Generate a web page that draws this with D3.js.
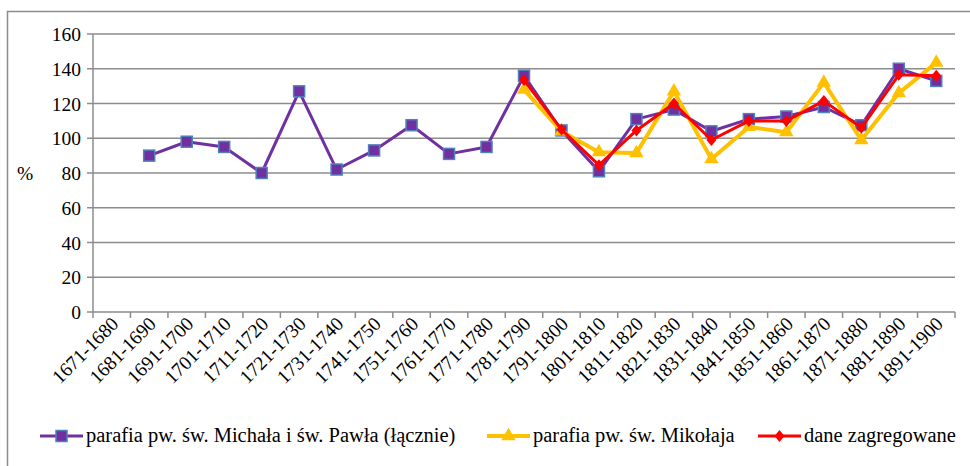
<!DOCTYPE html>
<html>
<head>
<meta charset="utf-8">
<script src="https://cdn.jsdelivr.net/npm/d3@7"></script>
</head>
<body style="margin:0">
<script>
// categories (decades) and series
var decades = ["1671-1680", "1681-1690", "1691-1700", "1701-1710", "1711-1720", "1721-1730",
  "1731-1740", "1741-1750", "1751-1760", "1761-1770", "1771-1780", "1781-1790", "1791-1800",
  "1801-1810", "1811-1820", "1821-1830", "1831-1840", "1841-1850", "1851-1860", "1861-1870",
  "1871-1880", "1881-1890", "1891-1900"];

var michalPawel = [null, 90, 98, 95, 80, 127, 82, 93, 107.5, 91, 95, 136, 104.5,
  81, 111, 116.5, 104, 111, 112.5, 118, 107.5, 140, 133];
var mikolaj = [null, null, null, null, null, null, null, null, null, null, null, 128, 104,
  92, 91.5, 127, 88, 106.5, 103.5, 132, 99, 126, 143.5];
var zagregowane = [null, null, null, null, null, null, null, null, null, null, null, 133.5, 105,
  84.5, 104.5, 120, 99, 110, 110, 121.5, 106, 136.5, 136];

var yTicks = [0, 20, 40, 60, 80, 100, 120, 140, 160];
var seriesNames = ["parafia pw. św. Michała i św. Pawła (łącznie)", "parafia pw. św. Mikołaja", "dane zagregowane"];

var FONT = "Liberation Serif";
var width = 970, height = 466;
var margin = { top: 34, left: 93 };
var w = 955 - margin.left;
var h = 312 - margin.top;

var svg = d3.select("body").append("svg")
  .attr("width", width)
  .attr("height", height);

// outer chart frame (runs past the right and bottom edges)
svg.append("rect")
  .attr("x", 7.5).attr("y", 11.5)
  .attr("width", 1000).attr("height", 500)
  .attr("fill", "none")
  .attr("stroke", "#8c8c8c")
  .attr("stroke-width", 1.5);

var g = svg.append("g").attr("transform", "translate(" + margin.left + "," + margin.top + ")");

var xScale = d3.scaleBand().domain(decades).range([0, w]);
var yScale = d3.scaleLinear().domain([0, 160]).range([h, 0]);

// gridlines
g.selectAll(".grid")
  .data(yTicks.filter(function(d) { return d > 0; }))
  .enter().append("line")
  .attr("x1", 0).attr("x2", w)
  .attr("y1", function(d) { return yScale(d); })
  .attr("y2", function(d) { return yScale(d); })
  .attr("stroke", "#8c8c8c")
  .attr("stroke-width", 1.5);

// y axis line and ticks
g.append("line")
  .attr("x1", 0).attr("x2", 0).attr("y1", 0).attr("y2", h)
  .attr("stroke", "#8c8c8c").attr("stroke-width", 1.5);
g.selectAll(".ytick")
  .data(yTicks)
  .enter().append("line")
  .attr("x1", -6).attr("x2", 0)
  .attr("y1", function(d) { return yScale(d); })
  .attr("y2", function(d) { return yScale(d); })
  .attr("stroke", "#8c8c8c").attr("stroke-width", 1.5);
g.selectAll(".ylab")
  .data(yTicks)
  .enter().append("text")
  .attr("x", -12)
  .attr("y", function(d) { return yScale(d) + 7; })
  .attr("text-anchor", "end")
  .attr("font-family", FONT)
  .attr("font-size", 19.5)
  .attr("fill", "#000")
  .text(function(d) { return d; });

// x axis: ticks at band edges
var xAxisG = g.append("g").attr("transform", "translate(0," + h + ")");
xAxisG.append("line")
  .attr("x1", 0).attr("x2", w)
  .attr("stroke", "#8c8c8c").attr("stroke-width", 1.5);
xAxisG.selectAll(".xtick")
  .data(d3.range(decades.length + 1))
  .enter().append("line")
  .attr("x1", function(i) { return i * xScale.step(); })
  .attr("x2", function(i) { return i * xScale.step(); })
  .attr("y1", 0).attr("y2", 6)
  .attr("stroke", "#8c8c8c").attr("stroke-width", 1.5);
xAxisG.selectAll(".xlab")
  .data(decades)
  .enter().append("text")
  .attr("transform", function(d) {
    return "translate(" + (xScale(d) + xScale.bandwidth() / 2 + 8) + ",13) rotate(-45)";
  })
  .attr("text-anchor", "end")
  .attr("font-family", FONT)
  .attr("font-size", 19.5)
  .attr("fill", "#000")
  .text(function(d) { return d; });

// "%" label
svg.append("text")
  .attr("x", 25).attr("y", 180)
  .attr("text-anchor", "middle")
  .attr("font-family", FONT)
  .attr("font-size", 19.5)
  .text("%");

var cx = function(i) { return xScale(decades[i]) + xScale.bandwidth() / 2; };

function drawSeries(values, color, lw) {
  var line = d3.line()
    .defined(function(d) { return d != null; })
    .x(function(d, i) { return cx(i); })
    .y(function(d) { return yScale(d); });
  g.append("path")
    .datum(values)
    .attr("d", line)
    .attr("fill", "none")
    .attr("stroke", color)
    .attr("stroke-width", lw)
    .attr("stroke-linejoin", "round");
}

function marker(sel, type) {
  if (type === "square") {
    sel.append("rect")
      .attr("x", -5.5).attr("y", -5.5).attr("width", 11).attr("height", 11)
      .attr("fill", "#7030a0").attr("stroke", "#4f81bd").attr("stroke-width", 1.5);
  } else if (type === "triangle") {
    sel.append("path")
      .attr("d", d3.symbol().type(d3.symbolTriangle).size(90))
      .attr("fill", "#ffc000");
  } else {
    sel.append("path")
      .attr("d", "M0,-6L5,0L0,6L-5,0Z")
      .attr("fill", "#ff0000");
  }
}

function drawMarkers(values, type) {
  values.forEach(function(v, i) {
    if (v == null) return;
    var m = g.append("g").attr("transform", "translate(" + cx(i) + "," + yScale(v) + ")");
    marker(m, type);
  });
}

drawSeries(michalPawel, "#7030a0", 3);
drawMarkers(michalPawel, "square");
drawSeries(mikolaj, "#ffc000", 4);
drawMarkers(mikolaj, "triangle");
drawSeries(zagregowane, "#ff0000", 3);
drawMarkers(zagregowane, "diamond");

// legend
var legendItems = [
  { name: seriesNames[0], color: "#7030a0", type: "square", x: 40, lw: 3 },
  { name: seriesNames[1], color: "#ffc000", type: "triangle", x: 487, lw: 4 },
  { name: seriesNames[2], color: "#ff0000", type: "diamond", x: 758, lw: 3 }
];
var lg = svg.selectAll(".legend")
  .data(legendItems)
  .enter().append("g")
  .attr("transform", function(d) { return "translate(" + d.x + ",436)"; });
lg.append("line")
  .attr("x1", 0).attr("x2", 43)
  .attr("stroke", function(d) { return d.color; })
  .attr("stroke-width", function(d) { return d.lw; });
lg.each(function(d) {
  var m = d3.select(this).append("g").attr("transform", "translate(21.5,0)");
  marker(m, d.type);
});
lg.append("text")
  .attr("x", 46).attr("y", 6)
  .attr("font-family", FONT)
  .attr("font-size", 20.5)
  .attr("fill", "#000")
  .text(function(d) { return d.name; });
</script>
</body>
</html>
